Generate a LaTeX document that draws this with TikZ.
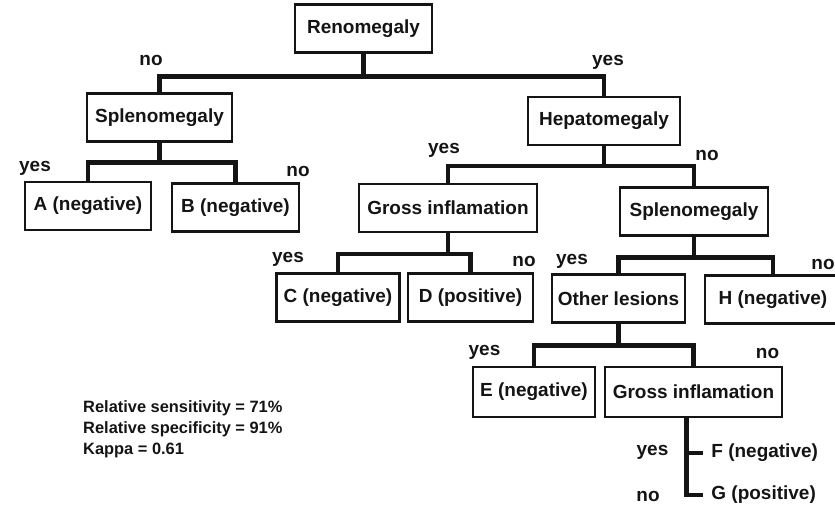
\documentclass[tikz,border=0pt]{standalone}
\usepackage{fontspec}
\setmainfont{Liberation Sans}
\usepackage{tikz}
\usetikzlibrary{calc}
\definecolor{Ink}{HTML}{141414}
\tikzset{
  box/.style={draw=Ink, fill=white, line width=1.9pt, minimum height=1.44cm, inner sep=2pt, text=Ink, font=\fontsize{16.2}{18}\selectfont\bfseries},
  leaf/.style={inner xsep=7pt, inner ysep=2pt, text=Ink, font=\fontsize{16.2}{18}\selectfont\bfseries},
  answer/.style={inner sep=0pt, text=Ink, font=\fontsize{16.2}{18}\selectfont\bfseries},
  branch/.style={draw=Ink, line width=4pt},
  fork/.style={to path={-- ++(0,#1) -| (\tikztotarget)}},
  fork/.default=21,
}
\begin{document}
\begin{tikzpicture}[x=0.03cm,y=-0.03cm]
\path[use as bounding box] (0,0) rectangle (835,509);
% decision boxes
\node[box,minimum width=4.11cm] (renal) at (363.5,28.5) {Renomegaly};
\node[box,minimum width=4.35cm] (splenoL) at (159.5,117.5) {Splenomegaly};
\node[box,minimum width=4.56cm] (hepato) at (604,121) {Hepatomegaly};
\node[box,minimum width=3.78cm] (leafA) at (88,206) {A (negative)};
\node[box,minimum width=3.81cm] (leafB) at (235.5,207.5) {B (negative)};
\node[box,minimum width=5.34cm] (grossU) at (448,208) {Gross inflamation};
\node[box,minimum width=4.44cm] (splenoR) at (694,211.5) {Splenomegaly};
\node[box,minimum width=3.69cm] (leafC) at (338,297.5) {C (negative)};
\node[box,minimum width=3.75cm] (leafD) at (470.5,297.5) {D (positive)};
\node[box,minimum width=3.99cm] (lesions) at (618.5,298.5) {Other lesions};
\node[box,minimum width=4.08cm] (leafH) at (773,299.5) {H (negative)};
\node[box,minimum width=3.66cm,minimum height=1.5cm] (leafE) at (534,392) {E (negative)};
\node[box,minimum width=5.31cm,minimum height=1.5cm] (grossL) at (693.5,392) {Gross inflamation};
\node[leaf,anchor=west] (leafF) at (703,453) {F (negative)};
\node[leaf,anchor=west] (leafG) at (703,495) {G (positive)};
\coordinate (grossFoot) at ($(grossL.south)+(-7,0)$);

% branches
\draw[branch] (renal.south) to[fork=23] (splenoL.north);
\draw[branch] (renal.south) to[fork=23] (hepato.north);
\draw[branch] (splenoL.south) to[fork=20] (leafA.north);
\draw[branch] (splenoL.south) to[fork=20] (leafB.north);
\draw[branch] (hepato.south) to[fork=20] (grossU.north);
\draw[branch] (hepato.south) to[fork=20] (splenoR.north);
\draw[branch] (grossU.south) to[fork] (leafC.north);
\draw[branch] (grossU.south) to[fork] (leafD.north);
\draw[branch] (splenoR.south) to[fork] (lesions.north);
\draw[branch] (splenoR.south) to[fork] (leafH.north);
\draw[branch] (lesions.south) to[fork=22] (leafE.north);
\draw[branch] (lesions.south) to[fork=22] (grossL.north);
\draw[branch] (grossFoot) |- (leafF.west);
\draw[branch] (grossFoot) |- (leafG.west);

% yes / no
\node[answer] (noRenal) at (151,60) {no};
\node[answer] (yesRenal) at (608,62) {yes};
\node[answer] (yesSplL) at (35,168) {yes};
\node[answer] (noSplL) at (298,171) {no};
\node[answer] (yesHep) at (444,150) {yes};
\node[answer] (noHep) at (707,155) {no};
\node[answer] (yesGrossU) at (288,259) {yes};
\node[answer] (noGrossU) at (524,261) {no};
\node[answer] (yesSplR) at (572,261) {yes};
\node[answer] (noSplR) at (823,264) {no};
\node[answer] (yesLes) at (484.5,352) {yes};
\node[answer] (noLes) at (767.5,353) {no};
\node[answer] (yesGrossL) at (652.5,452) {yes};
\node[answer] (noGrossL) at (648,496) {no};

\node[anchor=west,align=left,inner sep=0pt,text=Ink,font=\fontsize{14}{17.9}\selectfont\bfseries] (stats) at (83,429)
  {Relative sensitivity = 71\%\\Relative specificity = 91\%\\Kappa = 0.61};
\end{tikzpicture}
\end{document}
